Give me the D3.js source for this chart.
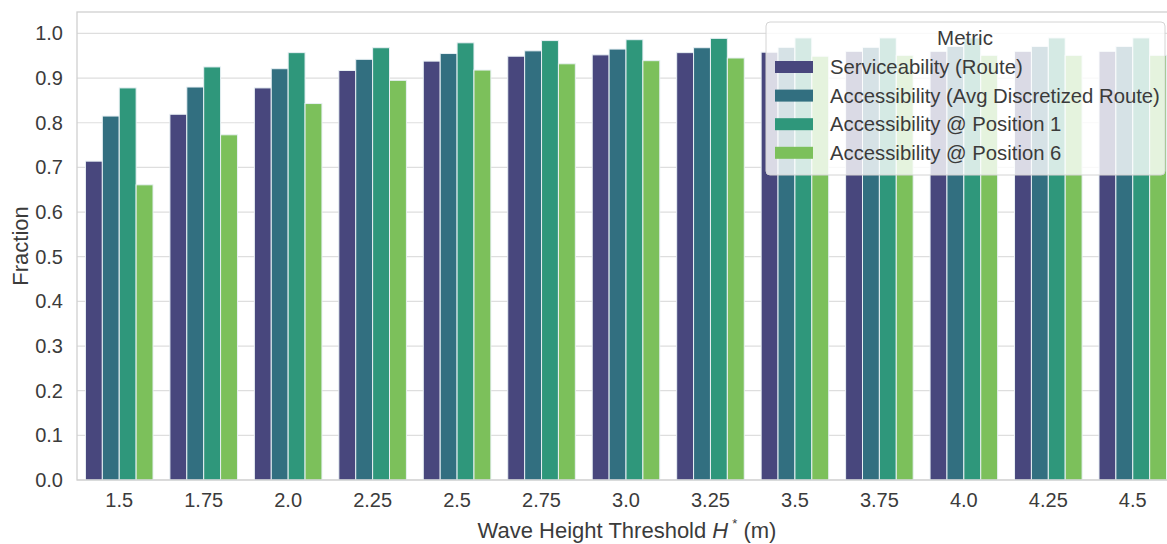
<!DOCTYPE html>
<html>
<head>
<meta charset="utf-8">
<script src="https://cdn.jsdelivr.net/npm/d3@7"></script>
<style>
  body { margin: 0; background: #fff; }
  svg { display: block; font-family: "Liberation Sans", Arial, sans-serif; }
</style>
</head>
<body>
<svg id="chart" width="1167" height="544"></svg>
<script>
// data
var thresholds = ["1.5", "1.75", "2.0", "2.25", "2.5", "2.75", "3.0", "3.25", "3.5", "3.75", "4.0", "4.25", "4.5"];
var metrics = ["Serviceability (Route)", "Accessibility (Avg Discretized Route)", "Accessibility @ Position 1", "Accessibility @ Position 6"];
var serviceability = [0.714, 0.819, 0.878, 0.917, 0.938, 0.949, 0.952, 0.957, 0.958, 0.960, 0.960, 0.960, 0.960];
var accessAvg      = [0.815, 0.880, 0.921, 0.942, 0.955, 0.961, 0.965, 0.968, 0.969, 0.969, 0.971, 0.971, 0.971];
var accessPos1     = [0.878, 0.925, 0.957, 0.968, 0.979, 0.984, 0.986, 0.989, 0.990, 0.990, 0.990, 0.990, 0.990];
var accessPos6     = [0.661, 0.773, 0.843, 0.895, 0.918, 0.932, 0.939, 0.945, 0.949, 0.951, 0.951, 0.951, 0.951];
var yTicks = [0, 0.1, 0.2, 0.3, 0.4, 0.5, 0.6, 0.7, 0.8, 0.9, 1.0];

var seriesValues = [serviceability, accessAvg, accessPos1, accessPos6];
var colors = ["#48477d", "#326f80", "#2f977b", "#7cc05b"];

var svg = d3.select("#chart");
var margin = {top: 12, right: -8, bottom: 64, left: 77};
var width = 1167 - margin.left - margin.right;
var height = 544 - margin.top - margin.bottom;
var textColor = "#3b3b3b";

var plot = svg.append("g").attr("transform", "translate(" + margin.left + "," + margin.top + ")");

var x = d3.scaleBand().domain(thresholds).range([0, width]).paddingInner(0.2).paddingOuter(0.1);
var xInner = d3.scaleBand().domain(d3.range(metrics.length)).range([0, x.bandwidth()]);
var y = d3.scaleLinear().domain([0, 1.048]).range([height, 0]);

// grid
plot.append("g").selectAll("line").data(yTicks).enter().append("line")
  .attr("x1", 0).attr("x2", width)
  .attr("y1", function(d){ return y(d); }).attr("y2", function(d){ return y(d); })
  .attr("stroke", "#dedede").attr("stroke-width", 1.2);

// bars
var rows = [];
thresholds.forEach(function(t, i){
  seriesValues.forEach(function(vals, j){
    rows.push({t: t, s: j, v: vals[i]});
  });
});
plot.append("g").selectAll("rect").data(rows).enter().append("rect")
  .attr("x", function(d){ return x(d.t) + xInner(d.s); })
  .attr("width", xInner.bandwidth())
  .attr("y", function(d){ return y(d.v); })
  .attr("height", function(d){ return y(0) - y(d.v); })
  .attr("fill", function(d){ return colors[d.s]; })
  .attr("stroke", "#e8f0f4").attr("stroke-width", 1);

// frame
plot.append("rect").attr("x", 0).attr("y", 0).attr("width", width).attr("height", height)
  .attr("fill", "none").attr("stroke", "#d0d0d0").attr("stroke-width", 1.3);

// y axis
var yAxis = plot.append("g").call(d3.axisLeft(y).tickValues(yTicks).tickSize(0).tickPadding(14)
  .tickFormat(d3.format(".1f")));
yAxis.select(".domain").remove();
yAxis.selectAll("text").attr("font-size", 20).attr("fill", textColor).attr("font-family", "Liberation Sans, Arial, sans-serif");

// x axis
var xAxis = plot.append("g").attr("transform", "translate(0," + height + ")")
  .call(d3.axisBottom(x).tickSize(0).tickPadding(13));
xAxis.select(".domain").remove();
xAxis.selectAll("text").attr("font-size", 20).attr("fill", textColor).attr("font-family", "Liberation Sans, Arial, sans-serif");

// axis titles
var xt = svg.append("text").attr("x", margin.left + 550).attr("y", 538)
  .attr("text-anchor", "middle").attr("font-size", 22).attr("fill", textColor);
xt.append("tspan").text("Wave Height Threshold ");
xt.append("tspan").attr("font-style", "italic").text("H");
xt.append("tspan").attr("font-size", 13).attr("dx", 4).attr("dy", -10).text("*");
xt.append("tspan").attr("dy", 10).text("  (m)");

svg.append("text").attr("transform", "translate(28," + (margin.top + height / 2) + ") rotate(-90)")
  .attr("text-anchor", "middle").attr("font-size", 22).attr("fill", textColor).text("Fraction");

// legend
var lg = svg.append("g").attr("transform", "translate(766,22)");
lg.append("rect").attr("width", 399).attr("height", 153).attr("rx", 4)
  .attr("fill", "rgba(255,255,255,0.8)").attr("stroke", "#d4d4d4").attr("stroke-width", 1);
lg.append("text").attr("x", 199).attr("y", 23).attr("text-anchor", "middle")
  .attr("font-size", 20.5).attr("fill", textColor).text("Metric");
var items = lg.selectAll("g.item").data(metrics).enter().append("g").attr("class", "item")
  .attr("transform", function(d, i){ return "translate(0," + (52 + i * 28.6) + ")"; });
items.append("rect").attr("x", 9).attr("y", -13).attr("width", 38).attr("height", 12)
  .attr("fill", function(d, i){ return colors[i]; });
items.append("text").attr("x", 64).attr("y", 0).attr("font-size", 20.3).attr("fill", textColor)
  .text(function(d){ return d; });
</script>
</body>
</html>
